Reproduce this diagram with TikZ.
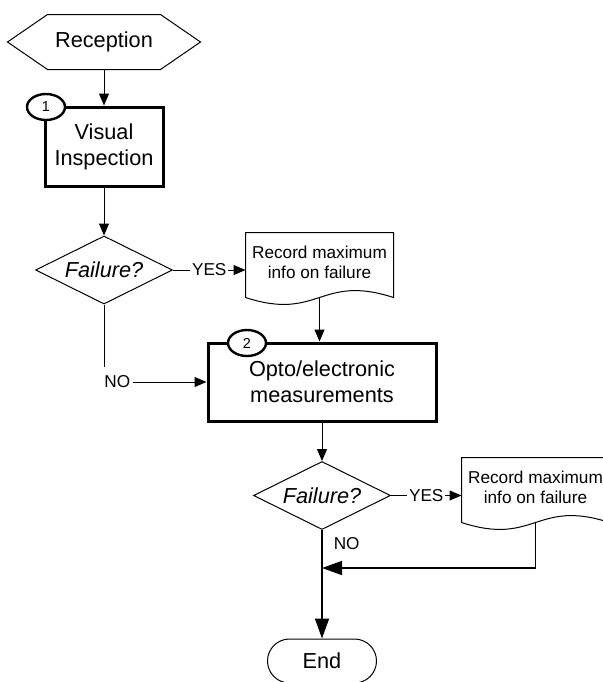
\documentclass[tikz,border=0pt]{standalone}
\usepackage{fontspec}
\setmainfont{Liberation Sans}
\usetikzlibrary{arrows.meta,shapes.geometric,shapes.misc}

\begin{document}
\begin{tikzpicture}[x=0.5pt,y=-0.5pt,->,>={Triangle[length=6pt,width=5pt]},line width=0.5pt,
	big font/.style={font=\fontsize{10.85}{13}\selectfont},
	small font/.style={font=\fontsize{8.6}{10}\selectfont},
	term node/.style={rectangle,inner sep=0pt,minimum width=56pt,minimum height=27pt,big font},
	box node/.style={rectangle,draw,line width=1.5pt,align=center,inner sep=0pt,big font},
	num node/.style={ellipse,draw,fill=white,line width=1.2pt,minimum width=19pt,minimum height=13pt,inner sep=0pt,font=\fontsize{7.2}{8}\selectfont},
	decision node/.style={diamond,draw,aspect=2,minimum width=68.5pt,minimum height=34pt,inner sep=0pt,font=\fontsize{10.85}{13}\selectfont\itshape},
	doc node/.style={rectangle,inner sep=0pt,minimum width=73.5pt,minimum height=29pt,align=center,small font},
	end node/.style={rounded rectangle,draw,minimum width=54.5pt,minimum height=22pt,inner sep=0pt,big font},
	label node/.style={inner xsep=1pt,inner ysep=1pt,small font},
	big arrow/.style={line width=0.8pt,>={Triangle[length=10pt,width=7pt]}}]
	\useasboundingbox (0,0) rectangle (603,682);

	\node[term node] (rec) at (104,42) {Reception};
	\node[box node,minimum width=59pt,minimum height=39.5pt] (vis) at (104,146.5) {Visual\\Inspection};
	\node[num node] (n1) at (46,107) {1};
	\node[decision node] (fail1) at (104,270) {Failure?};
	\node[doc node] (doc1) at (319.5,262) {Record maximum\\info on failure};
	\node[box node,minimum width=114pt,minimum height=39pt] (meas) at (322,382) {Opto/electronic\\measurements};
	\node[num node] (n2) at (247,343) {2};
	\node[decision node] (fail2) at (322,495.5) {Failure?};
	\node[doc node] (doc2) at (535.5,487) {Record maximum\\info on failure};
	\node[end node] (end) at (322,661) {End};
	\node[label node,anchor=west,inner ysep=4.4pt] (no1) at (102,382) {NO};
	\coordinate (merge) at (322,568);

	% outlines of the start and document shapes
	\draw[-] (rec.north west) -- (rec.north east) -- ([xshift=20pt]rec.east) -- (rec.south east)
		-- (rec.south west) -- ([xshift=-20pt]rec.west) -- cycle;
	\foreach \d in {doc1,doc2}
		\draw[-] (\d.north west) -- (\d.north east) -- ([yshift=-3pt]\d.south east)
			.. controls +(-73.5,-24) and +(73.5,24) .. ([yshift=-3pt]\d.south west) -- cycle;

	\path
		(rec) edge (vis)
		(vis) edge (fail1)
		(fail1) edge node[label node,fill=white] {YES} (doc1.west |- fail1)
			edge[-] (fail1 |- no1.north)
		(no1) edge (meas)
		([yshift=-3pt]doc1.south) edge (doc1.south |- meas.north)
		(meas) edge (fail2)
		(fail2) edge node[label node,fill=white] {YES} (doc2.west |- fail2)
			edge[big arrow] node[label node,pos=0.127,anchor=west,xshift=4.5pt] {NO} (end);
	\draw[big arrow] ([yshift=-3pt]doc2.south) |- (merge);
\end{tikzpicture}
\end{document}
